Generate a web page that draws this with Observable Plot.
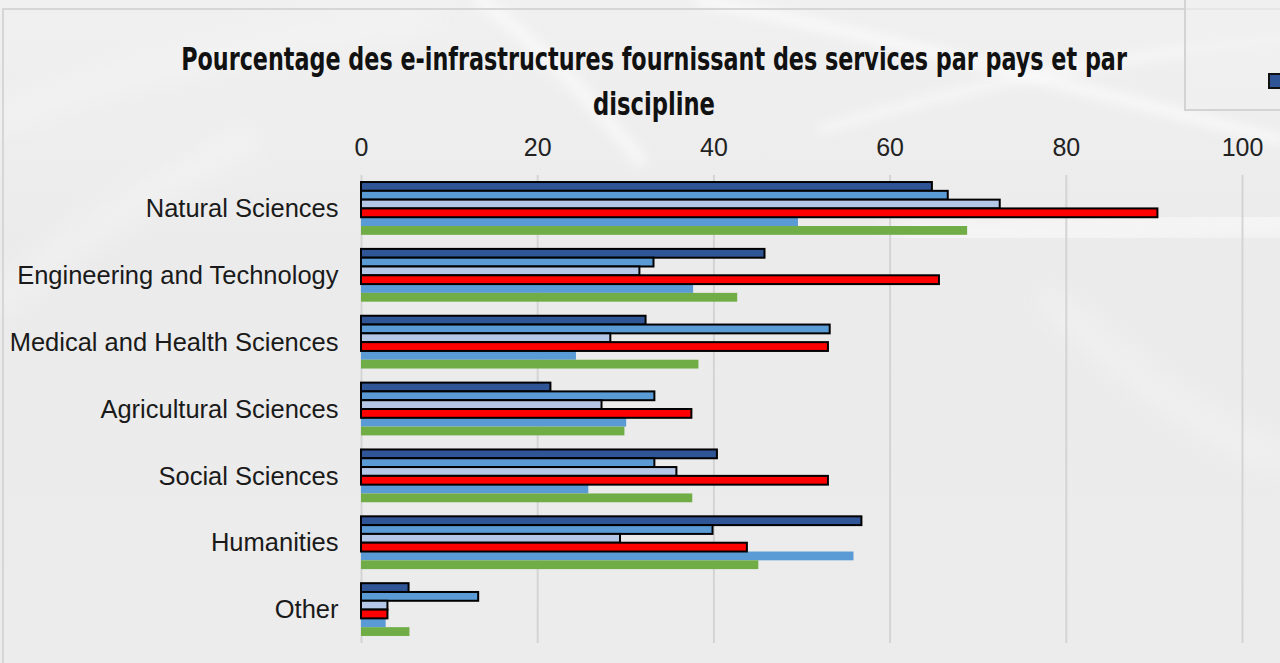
<!DOCTYPE html>
<html>
<head>
<meta charset="utf-8">
<script src="https://cdn.jsdelivr.net/npm/d3@7"></script>
<script src="https://cdn.jsdelivr.net/npm/@observablehq/plot@0.6"></script>
<style>
  html, body { margin: 0; padding: 0; background: #ececec; }
  #wrap { position: relative; width: 1280px; height: 663px; overflow: hidden;
          background: linear-gradient(180deg, #f0f0f0 0%, #ebebeb 40%, #ececec 100%);
          font-family: "Liberation Sans", Arial, sans-serif; }
  #bg, #title, #chart, #frame, #legend { position: absolute; }
  #bg { left: 0; top: 0; }
  #frame { left: 2px; top: 8px; width: 1400px; height: 800px; border-left: 2px solid #d6d6d6; border-top: 2px solid #d6d6d6; }
  #legend { left: 1184px; top: -10px; width: 200px; height: 117px; border: 2px solid #d3d3d3; background: rgba(240,240,240,0.6); }
  #legend .sw { position: absolute; left: 82px; top: 81px; width: 14px; height: 12px; background: #2F5597; border: 2px solid #111; }
  #title { left: 0; top: 0; }
  #chart { left: 0; top: 0; }
  #chart svg { overflow: visible; }
  #chart [aria-label^="x-axis"] text { font-family: "Liberation Sans", Arial, sans-serif; font-size: 25px; fill: #222; }
  #chart [aria-label^="fy-axis"] text { font-family: "Liberation Sans", Arial, sans-serif; font-size: 25.5px; fill: #1a1a1a; }
</style>
</head>
<body>
<div id="wrap">
  <svg id="bg" width="1280" height="663">
    <defs>
      <filter id="blur" x="-20%" y="-20%" width="140%" height="140%"><feGaussianBlur stdDeviation="6"/></filter>
      <filter id="blur2" x="-20%" y="-20%" width="140%" height="140%"><feGaussianBlur stdDeviation="14"/></filter>
    </defs>
    <g fill="none" stroke="#ffffff" stroke-linecap="round">
      <path d="M 480 0 Q 560 60 640 160" stroke-width="14" opacity="0.55" filter="url(#blur)"/>
      <path d="M 700 0 Q 900 40 1280 140" stroke-width="10" opacity="0.7" filter="url(#blur)"/>
      <path d="M 820 130 Q 1050 60 1280 40" stroke-width="8" opacity="0.6" filter="url(#blur)"/>
      <path d="M 900 235 Q 1100 232 1300 220" stroke-width="22" opacity="0.8" filter="url(#blur2)"/>
      <path d="M 0 120 Q 200 40 430 20" stroke-width="18" opacity="0.35" filter="url(#blur2)"/>
      <path d="M 0 300 Q 120 200 250 140" stroke-width="24" opacity="0.3" filter="url(#blur2)"/>
      <path d="M 1050 300 Q 1180 420 1280 460" stroke-width="20" opacity="0.35" filter="url(#blur2)"/>
    </g>
  </svg>
  <div id="frame"></div>
  <div id="legend"><span class="sw"></span></div>
  <svg id="title" width="1280" height="130">
    <g font-family="'DejaVu Sans Condensed', 'Liberation Sans', sans-serif" font-weight="bold" font-size="32" fill="#111">
      <g id="tg1"><text id="t1" x="0" y="70" text-anchor="middle"></text></g>
      <g id="tg2"><text id="t2" x="0" y="115" text-anchor="middle"></text></g>
    </g>
  </svg>
  <div id="chart"></div>
</div>
<script>
// ---- data ----
const titleLines = [
  "Pourcentage des e-infrastructures fournissant des services par pays et par",
  "discipline"
];
const categories = [
  "Natural Sciences",
  "Engineering and Technology",
  "Medical and Health Sciences",
  "Agricultural Sciences",
  "Social Sciences",
  "Humanities",
  "Other"
];
const seriesNames = ["Série 1", "Série 2", "Série 3", "Série 4", "Série 5", "Série 6"];
const series1 = [64.8, 45.8, 32.3, 21.5, 40.4, 56.8, 5.4];
const series2 = [66.6, 33.2, 53.2, 33.3, 33.3, 39.9, 13.3];
const series3 = [72.5, 31.6, 28.3, 27.3, 35.8, 29.4, 3.0];
const series4 = [90.4, 65.6, 53.0, 37.5, 53.0, 43.8, 3.0];
const series5 = [49.6, 37.7, 24.4, 30.1, 25.8, 55.9, 2.8];
const series6 = [68.8, 42.7, 38.3, 29.9, 37.6, 45.1, 5.5];
const seriesColors = ["#2F5597", "#5B9BD5", "#B4C7E7", "#FF0000", "#5B9BD5", "#70AD47"];
const outlinedSeries = ["Série 1", "Série 2", "Série 3", "Série 4"];
const xTicks = [0, 20, 40, 60, 80, 100];

// ---- title: condensed horizontally by a transform to the reference's width ----
(function () {
  const widthsWanted = [946, 122];
  const centerX = 654;
  ["t1", "t2"].forEach((id, i) => {
    const t = document.getElementById(id);
    t.textContent = titleLines[i];
    const w = t.getComputedTextLength();
    const s = widthsWanted[i] / w;
    document.getElementById("tg" + (i + 1)).setAttribute("transform", `translate(${centerX},0) scale(${s},1)`);
  });
})();

// ---- chart ----
const allSeries = [series1, series2, series3, series4, series5, series6];
const rows = [];
allSeries.forEach((vals, si) => {
  vals.forEach((v, ci) => rows.push({category: categories[ci], series: seriesNames[si], value: v}));
});
const outlined = rows.filter(d => outlinedSeries.includes(d.series));
const plain = rows.filter(d => !outlinedSeries.includes(d.series));

const chart = Plot.plot({
  width: 1280,
  height: 663,
  marginTop: 175,
  marginBottom: 20,
  marginLeft: 361,
  marginRight: 38,
  style: {background: "transparent", fontFamily: "'Liberation Sans', Arial, sans-serif", fontSize: "24px", color: "#1a1a1a"},
  x: {domain: [0, 100], axis: "top", ticks: xTicks, tickSize: 0, tickPadding: 20, label: null},
  y: {domain: seriesNames, axis: null, paddingInner: 0, paddingOuter: 0.8, round: false},
  fy: {domain: categories, axis: "left", padding: 0, label: null, tickSize: 0, tickPadding: 23, round: false},
  color: {domain: seriesNames, range: seriesColors},
  marks: [
    Plot.ruleX(xTicks, {stroke: "#d4d4d4", strokeWidth: 2}),
    Plot.barX(plain, {x: "value", y: "series", fy: "category", fill: "series"}),
    Plot.barX(outlined, {x: "value", y: "series", fy: "category", fill: "series", stroke: "#000", strokeWidth: 2})
  ]
});
document.getElementById("chart").appendChild(chart);
</script>
</body>
</html>
